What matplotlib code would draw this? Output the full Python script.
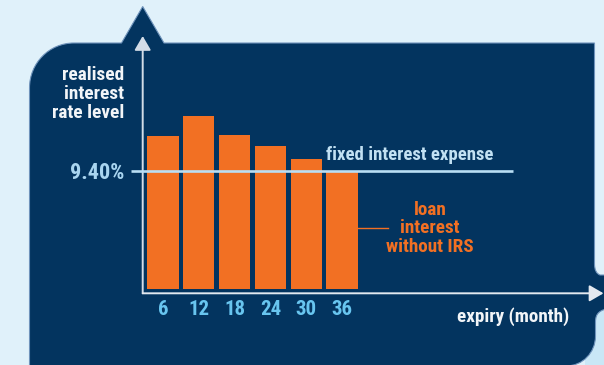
import matplotlib
matplotlib.use("Agg")
import matplotlib.pyplot as plt
from matplotlib.path import Path
from matplotlib.patches import PathPatch, Rectangle

# Data
months = ["6", "12", "18", "24", "30", "36"]
loan_rates = [12.15, 13.75, 12.25, 11.35, 10.35, 9.40]
fixed_rate = 9.40
fixed_label = "9.40%"

# Style
NAVY = "#03345f"
PAGE = "#e0f1fa"
PAGE_LOW = "#c9e7f6"
ORANGE = "#f27023"
WHITE = "#f2f5f8"
LINE_BLUE = "#b9def4"
TICK_BLUE = "#68c5ef"
LABEL_BLUE = "#a9d5f0"
FONT = ["Liberation Sans Narrow", "Roboto Condensed", "Arial Narrow", "Roboto", "DejaVu Sans"]
plt.rcParams["font.family"] = FONT

W, H = 604, 365
fig = plt.figure(figsize=(W / 100, H / 100), dpi=100, facecolor=PAGE)

# Background panel drawn in pixel space
bg = fig.add_axes([0, 0, 1, 1])
bg.set_xlim(0, W)
bg.set_ylim(H, 0)
bg.axis("off")
bg.add_patch(Rectangle((585, 300), 30, 80, facecolor=PAGE_LOW, edgecolor="none"))

k = 0.5523
r = 45
verts = [
    (29.5, 380), (29.5, 43 + r),
    (29.5, 43 + r - k * r), (74 - k * r, 43), (74, 43),
    (121.5, 43), (142.7, 6.5), (164, 43), (594.5, 43),
    (594.5, 264),
    (594.5, 273), (600, 275),
    (610, 275), (610, 308),
    (600, 310), (595.5, 313), (595.5, 322),
    (595.5, 336),
    (595.5, 336 + k * 30), (566 + k * 30, 366), (566, 366),
    (29.5, 380), (29.5, 380),
]
codes = [
    Path.MOVETO, Path.LINETO,
    Path.CURVE4, Path.CURVE4, Path.CURVE4,
    Path.LINETO, Path.LINETO, Path.LINETO, Path.LINETO,
    Path.LINETO,
    Path.CURVE3, Path.CURVE3,
    Path.LINETO, Path.LINETO,
    Path.CURVE4, Path.CURVE4, Path.CURVE4,
    Path.LINETO,
    Path.CURVE4, Path.CURVE4, Path.CURVE4,
    Path.LINETO, Path.CLOSEPOLY,
]
bg.add_patch(PathPatch(Path(verts, codes), facecolor=NAVY, edgecolor="#6f93bb", lw=0.8))

# Chart axes
left, right, top, bottom = 142.7, 603.5, 36.0, 293.3
ax = fig.add_axes([left / W, 1 - bottom / H, (right - left) / W, (bottom - top) / H])
ax.set_facecolor("none")
ax.set_xlim(-0.567, 12.30)
ax.set_ylim(-0.317, 20.08)
for s in ax.spines.values():
    s.set_visible(False)

x = range(len(months))
ax.bar(x, loan_rates, width=0.87, color=ORANGE, edgecolor="none", zorder=2)

# Axis arrows
ax.annotate("", xy=(0, 1), xytext=(0, 0), xycoords="axes fraction",
            arrowprops=dict(arrowstyle="-|>,head_length=0.86,head_width=0.5",
                            color="#d3dce7", lw=1.4, shrinkA=0, shrinkB=0), zorder=3)
ax.annotate("", xy=(1, 0), xytext=(0, 0), xycoords="axes fraction",
            arrowprops=dict(arrowstyle="-|>,head_length=0.86,head_width=0.5",
                            color="#e3e9f0", lw=1.4, shrinkA=0, shrinkB=0), zorder=3)

# Fixed rate reference line
ax.plot([-0.9, 9.78], [fixed_rate, fixed_rate], color=LINE_BLUE, lw=1.9,
        clip_on=False, zorder=4, solid_capstyle="butt")
ax.annotate("fixed interest expense", xy=(5 - 0.435, fixed_rate), xytext=(0, 8),
            textcoords="offset points", ha="left", va="baseline",
            color="#c2e1f3", fontsize=13.5, fontweight="bold")

# Ticks
ax.set_xticks(list(x))
ax.set_xticklabels(months)
ax.set_yticks([fixed_rate])
ax.set_yticklabels([fixed_label])
ax.tick_params(axis="x", length=0, pad=4.5, labelsize=15, labelcolor=TICK_BLUE)
ax.tick_params(axis="y", length=0, pad=13.5, labelsize=16, labelcolor=LABEL_BLUE)
for lbl in ax.get_xticklabels() + ax.get_yticklabels():
    lbl.set_fontweight("bold")

# Loan interest callout
lead_y = 4.82
ax.plot([5 + 0.435, 6.285], [lead_y, lead_y], color=ORANGE, lw=1.0, clip_on=False)
ax.text(7.46, lead_y, "loan\ninterest\nwithout IRS", ha="center", va="center",
        color=ORANGE, fontsize=13.8, fontweight="bold", linespacing=1.05)

# Axis titles
ax.text(-1.09, 15.46, "realised\ninterest\nrate level", ha="right", va="center",
        color=WHITE, fontsize=13.9, fontweight="bold", linespacing=1.08, clip_on=False)
ax.text(9.79, -2.2, "expiry (month)", ha="center", va="center",
        color=WHITE, fontsize=13.75, fontweight="bold", clip_on=False)

fig.savefig("out.png", dpi=100, facecolor=PAGE)
